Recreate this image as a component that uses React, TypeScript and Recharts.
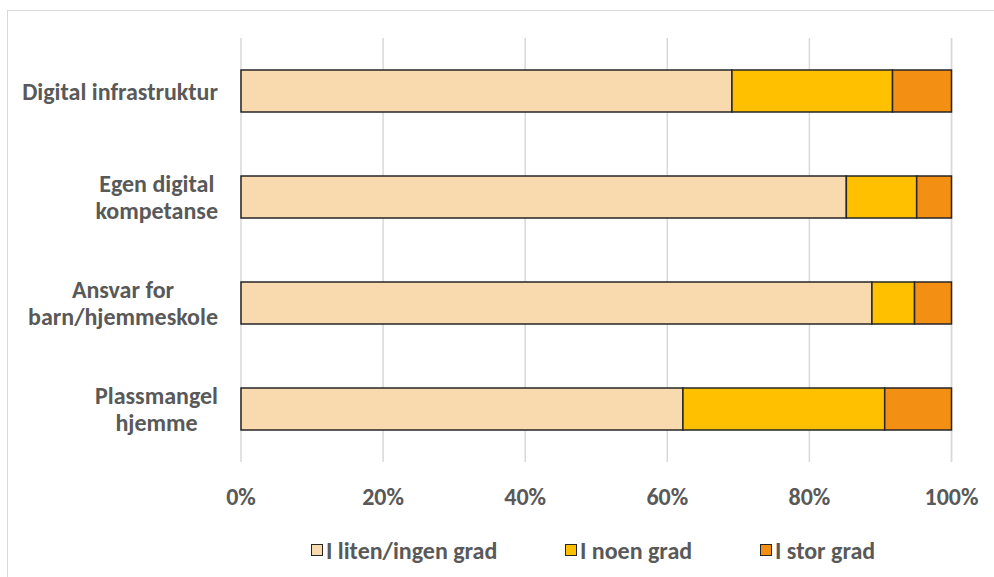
import React from 'react'
import { BarChart, Bar, XAxis, YAxis, CartesianGrid } from 'recharts'

const categories = ['Digital infrastruktur', 'Egen digital kompetanse', 'Ansvar for barn/hjemmeskole', 'Plassmangel hjemme']
const labelLines = [['Digital infrastruktur'], ['Egen digital', 'kompetanse'], ['Ansvar for', 'barn/hjemmeskole'], ['Plassmangel', 'hjemme']]
const liten = [69.1, 85.2, 88.8, 62.2]
const noen = [22.6, 9.9, 6.0, 28.4]
const stor = [8.3, 4.9, 5.2, 9.4]
const xTicks = [0, 20, 40, 60, 80, 100]

const seriesNames = ['I liten/ingen grad', 'I noen grad', 'I stor grad']
const colors = ['#F9D9AE', '#FFC000', '#F38F12']

const FONT = "Carlito, 'Open Sans', sans-serif"
const FONT_SIZE = 24
const TEXT = '#595959'

const data = categories.map((name, i) => ({
  name,
  liten: liten[i],
  noen: noen[i],
  stor: stor[i],
}))

let ctx: CanvasRenderingContext2D | null = null
const measure = (s: string) => {
  if (!ctx) ctx = document.createElement('canvas').getContext('2d')
  if (!ctx) return s.length * 12
  ctx.font = `bold ${FONT_SIZE}px ${FONT}`
  return ctx.measureText(s).width
}

// category label: lines centered on each other, block right-aligned
const YTick = (props: any) => {
  const { x, y, index } = props
  const lines: string[] = labelLines[index] || []
  const blockW = Math.max(...lines.map(measure))
  const cx = x - 15 - blockW / 2
  const lh = 27
  const y0 = y - ((lines.length - 1) * lh) / 2
  return (
    <text fill={TEXT} fontSize={FONT_SIZE} fontWeight="bold" fontFamily={FONT} textAnchor="middle">
      {lines.map((l, i) => (
        <tspan key={i} x={cx} y={y0 + i * lh} dominantBaseline="central">
          {l}
        </tspan>
      ))}
    </text>
  )
}

const XTick = (props: any) => {
  const { x, payload } = props
  return (
    <text x={x} y={496} fill={TEXT} fontSize={FONT_SIZE} fontWeight="bold" fontFamily={FONT} textAnchor="middle" dominantBaseline="central">
      {`${payload.value}%`}
    </text>
  )
}

const legendX = [311, 565, 760]

export default function App() {
  return (
    <div style={{ position: 'absolute', left: 0, top: 0, width: 994, height: 577, overflow: 'hidden', background: '#fff' }}>
      <div style={{ position: 'absolute', left: 7, top: 10, width: 1100, height: 700, border: '1.5px solid #D9D9D9' }} />
      <div style={{ position: 'absolute', left: 0, top: 0 }}>
        <BarChart
          width={994}
          height={577}
          data={data}
          layout="vertical"
          barSize={42}
          margin={{ top: 38, right: 42.5, left: 0, bottom: 75 }}
        >
          <CartesianGrid horizontal={false} stroke="#D9D9D9" strokeWidth={1.5} />
          <XAxis
            type="number"
            domain={[0, 100]}
            ticks={xTicks}
            axisLine={false}
            tickLine={false}
            tick={<XTick />}
            height={40}
          />
          <YAxis type="category" dataKey="name" width={241} axisLine={false} tickLine={false} tick={<YTick />} />
          <Bar dataKey="liten" stackId="a" fill={colors[0]} stroke="#262626" strokeWidth={1.5} isAnimationActive={false} />
          <Bar dataKey="noen" stackId="a" fill={colors[1]} stroke="#262626" strokeWidth={1.5} isAnimationActive={false} />
          <Bar dataKey="stor" stackId="a" fill={colors[2]} stroke="#262626" strokeWidth={1.5} isAnimationActive={false} />
        </BarChart>
      </div>
      {seriesNames.map((n, i) => (
        <div
          key={n}
          style={{
            position: 'absolute',
            left: legendX[i],
            top: 535,
            height: 30,
            display: 'flex',
            alignItems: 'center',
            fontFamily: FONT,
            fontWeight: 'bold',
            fontSize: FONT_SIZE,
            color: TEXT,
            whiteSpace: 'nowrap',
          }}
        >
          <span style={{ display: 'inline-block', width: 10, height: 10, background: colors[i], border: '1px solid #262626', marginRight: 3 }} />
          {n}
        </div>
      ))}
    </div>
  )
}
